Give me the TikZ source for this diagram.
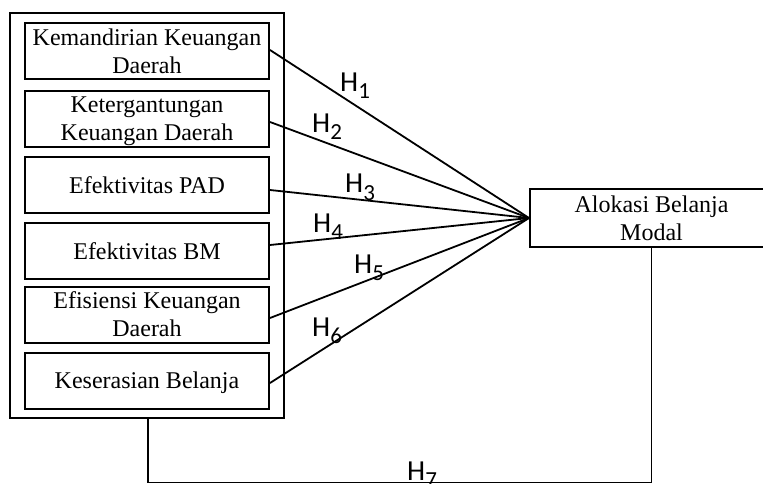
\documentclass[tikz,border=0pt]{standalone}
\usepackage{fontspec}
\setmainfont{Liberation Serif}
\newfontfamily\hfont{Carlito}
\newcommand\hsub[1]{H{\fontsize{23}{23}\selectfont\raisebox{-7pt}{#1}}}
\tikzset{
  box/.style={draw, line width=2pt, inner sep=0pt, minimum width=244pt, minimum height=56pt,
    align=center, text depth=0pt, font=\fontsize{24}{28}\selectfont},
  outerbox/.style={draw, line width=2pt, inner sep=0pt},
  link/.style={line width=1.8pt},
  hlab/.style={anchor=base west, inner sep=0pt, font=\fontsize{29}{29}\hfont}
}
\begin{document}
\begin{tikzpicture}[x=1pt,y=-1pt]
\useasboundingbox (0,0) rectangle (763,484);
\node[outerbox, minimum width=274pt, minimum height=405pt] (outer) at (146.5,215.5) {};
\node[box] (b1) at (147,51.5) {Kemandirian Keuangan\\Daerah};
\node[box] (b2) at (147,119) {Ketergantungan\\Keuangan Daerah};
\node[box] (b3) at (147,185) {Efektivitas PAD};
\node[box] (b4) at (147,251) {Efektivitas BM};
\node[box] (b5) at (147,314.5) {Efisiensi Keuangan\\Daerah};
\node[box] (b6) at (147,380.5) {Keserasian Belanja};
\node[box, minimum width=243pt, minimum height=58pt] (alok) at (651.5,218) {Alokasi Belanja\\Modal};

\draw[link] ([yshift=1.5pt]b1.east) -- (alok.west);
\draw[link] ([yshift=-3pt]b2.east) -- (alok.west);
\draw[link] ([yshift=-5pt]b3.east) -- (alok.west);
\draw[link] ([yshift=6pt]b4.east) -- (alok.west);
\draw[link] ([yshift=-3.5pt]b5.east) -- (alok.west);
\draw[link] ([yshift=-2.5pt]b6.east) -- (alok.west);

\coordinate (bl) at (148,482.5);
\draw[link] ([xshift=1.5pt]outer.south) -- ([xshift=1.5pt]outer.south |- bl) -| (alok.south);

\node[hlab] (h1) at (340,92) {\hsub{1}};
\node[hlab] (h2) at (312,133) {\hsub{2}};
\node[hlab] (h3) at (345,193) {\hsub{3}};
\node[hlab] (h4) at (313,232) {\hsub{4}};
\node[hlab] (h5) at (354,273) {\hsub{5}};
\node[hlab] (h6) at (312,336) {\hsub{6}};
\node[hlab] (h7) at (407,480) {\hsub{7}};
\end{tikzpicture}
\end{document}
